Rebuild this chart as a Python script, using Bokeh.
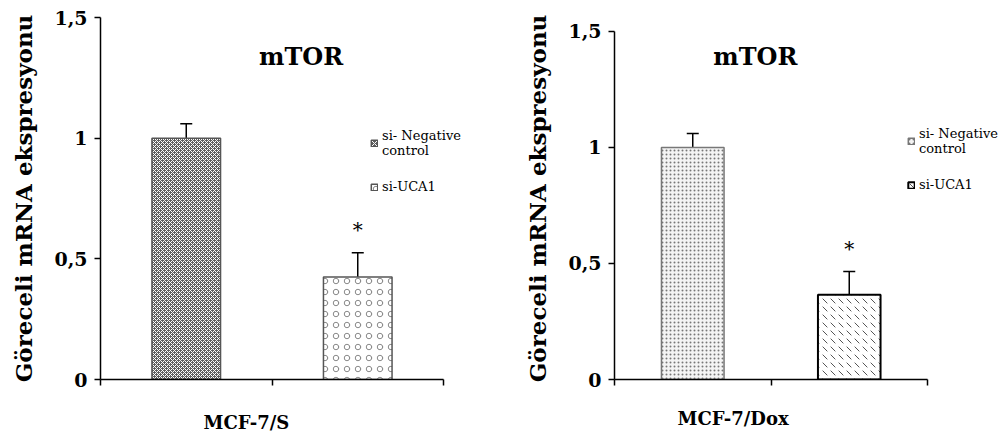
from bokeh.plotting import figure
from bokeh.models import (ColumnDataSource, Whisker, TeeHead, Label, Legend, LegendItem,
                          FixedTicker, LinearAxis, Title)
from bokeh.layouts import row
from bokeh.embed import file_html
from bokeh.resources import INLINE
from bokeh.core.properties import value
import numpy as np

# ---- data ----
cell_lines = ["MCF-7/S", "MCF-7/Dox"]
series_names = ["si- Negative\ncontrol", "si-UCA1"]
neg_control = [1.0, 1.0]
neg_control_err = [0.06, 0.06]
si_uca1 = [0.425, 0.365]
si_uca1_err = [0.10, 0.10]
significance = ["*", "*"]
chart_title = "mTOR"
y_label = "Göreceli mRNA ekspresyonu"
y_ticks = [0, 0.5, 1, 1.5]
y_tick_labels = ["0", "0,5", "1", "1,5"]

SERIF = "DejaVu Serif"

styles = [
    # left panel
    dict(borders=(100, 0, 17, 58), x_end=2 * 400 / 343, y_end=1.5,
         neg=dict(fill_color="#5e5e5e", hatch_pattern="diagonal_cross", hatch_color="white",
                  hatch_scale=4, hatch_weight=1, line_color="#555555"),
         uca=dict(fill_color="white", hatch_pattern="ring", hatch_color="#888888",
                  hatch_scale=11, hatch_weight=1, line_color="#555555"),
         title_xy=(1.17, 1.34), xlabel_offset=103, xlabel_gap=22, legend_loc=(270, 185)),
    # right panel
    dict(borders=(114, 0, 17, 58), x_end=2 * 386 / 313, y_end=1.5 + 14 / 232.7,
         neg=dict(fill_color="#f4f4f4", hatch_pattern="dot", hatch_color="#777777",
                  hatch_scale=4, hatch_weight=1, line_color="#777777"),
         uca=dict(fill_color="white", hatch_pattern="left_diagonal_dash", hatch_color="#555555",
                  hatch_scale=8, hatch_weight=1, line_color="black"),
         title_xy=(0.9, 1.39), xlabel_offset=63, xlabel_gap=18, legend_loc=(293, 187)),
]


def make_panel(i):
    st = styles[i]
    bl, br, bt, bb = st["borders"]
    p = figure(width=500, height=437, x_range=(0, st["x_end"]), y_range=(0, st["y_end"]),
               output_backend="svg", toolbar_location=None,
               min_border_left=bl, min_border_right=br, min_border_top=bt, min_border_bottom=bb)
    p.outline_line_color = None
    p.xgrid.visible = False
    p.ygrid.visible = False
    p.background_fill_color = "white"

    xs = np.arange(len(series_names)) + 0.5
    vals = [neg_control[i], si_uca1[i]]
    errs = [neg_control_err[i], si_uca1_err[i]]
    src = ColumnDataSource(dict(x=xs, top=vals, upper=np.array(vals) + np.array(errs),
                                sig=["", significance[i]]))

    r_neg = p.vbar(x=xs[0:1], top=vals[0:1], width=0.4, line_width=1.5, **st["neg"])
    r_uca = p.vbar(x=xs[1:2], top=vals[1:2], width=0.4, line_width=1.5 if i == 0 else 2, **st["uca"])

    w = Whisker(source=src, base="x", lower="top", upper="upper", line_color="black", line_width=1.5,
                lower_head=None, upper_head=TeeHead(size=12, line_color="black", line_width=1.5))
    p.add_layout(w)

    p.text(x="x", y="upper", text="sig", source=src, text_align="center", text_baseline="alphabetic",
           y_offset=-23, text_font=value(SERIF), text_font_size="20px", text_color="black")

    tx, ty = st["title_xy"]
    p.add_layout(Label(x=tx, y=ty, text=chart_title, text_align="center", text_baseline="middle",
                       text_font=SERIF, text_font_style="bold", text_font_size="24px",
                       text_color="black"))

    # axes
    p.yaxis.ticker = FixedTicker(ticks=y_ticks)
    p.yaxis.bounds = (0, 1.5)
    p.yaxis.major_label_overrides = {t: l for t, l in zip(y_ticks, y_tick_labels)}
    p.yaxis.major_label_text_font = SERIF
    p.yaxis.major_label_text_font_style = "bold"
    p.yaxis.major_label_text_font_size = "19px"
    p.yaxis.major_label_standoff = 7
    p.yaxis.axis_label = y_label
    p.yaxis.axis_label_text_font = SERIF
    p.yaxis.axis_label_text_font_style = "bold"
    p.yaxis.axis_label_text_font_size = "23px"
    p.yaxis.axis_label_standoff = 14
    p.yaxis.minor_tick_line_color = None
    p.yaxis.major_tick_in = 0
    p.yaxis.major_tick_out = 6

    main_x = p.xaxis[0]
    main_x.ticker = FixedTicker(ticks=[0, 1, 2])
    main_x.bounds = (0, 2)
    main_x.major_label_overrides = {0: "", 1: "", 2: ""}
    main_x.minor_tick_line_color = None
    main_x.major_tick_in = 0
    main_x.major_tick_out = 6
    for ax in (main_x, p.yaxis[0]):
        ax.axis_line_width = 1.5
        ax.major_tick_line_width = 1.5
        ax.axis_line_color = "black"
        ax.major_tick_line_color = "black"
        ax.major_label_text_color = "black"
        ax.axis_label_text_color = "black"

    # empty, line-less axis used only as vertical spacing before the category label
    spacer = LinearAxis(ticker=FixedTicker(ticks=[0]), bounds=(0, 2),
                        axis_line_color=None, major_tick_line_color=None,
                        minor_tick_line_color=None, major_label_overrides={0: ""},
                        major_tick_out=st["xlabel_gap"], major_tick_in=0)
    p.add_layout(spacer, "below")
    p.add_layout(Title(text=cell_lines[i], align="left", offset=st["xlabel_offset"],
                       text_font=SERIF, text_font_style="bold", text_font_size="18px",
                       text_color="black", standoff=4), "below")

    legend = Legend(items=[LegendItem(label=series_names[0], renderers=[r_neg]),
                           LegendItem(label=series_names[1], renderers=[r_uca])],
                    location=st["legend_loc"], glyph_width=8, glyph_height=8,
                    label_text_font=SERIF, label_text_font_size="13px", label_standoff=4,
                    label_text_line_height=1.5, label_text_color="black",
                    spacing=21, padding=0, margin=0, border_line_color=None,
                    background_fill_alpha=0, label_height=10)
    p.add_layout(legend)
    return p


layout = row(make_panel(0), make_panel(1))
open("out.html", "w").write(file_html(layout, INLINE))
